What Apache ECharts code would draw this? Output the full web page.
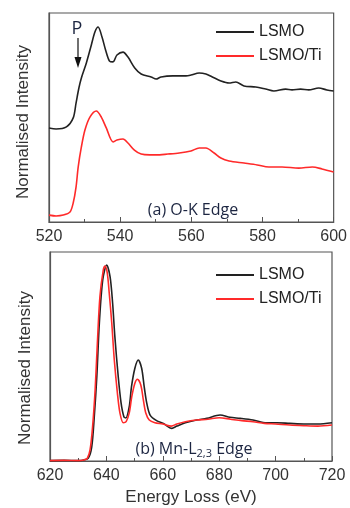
<!DOCTYPE html>
<html>
<head>
<meta charset="utf-8">
<script src="https://cdn.jsdelivr.net/npm/echarts@6/dist/echarts.min.js"></script>
<style>
  html, body { margin: 0; padding: 0; background: #fff; }
  #chart { width: 350px; height: 508px; }
</style>
</head>
<body>
<div id="chart"></div>
<script>
// (a) O-K edge
const okEnergyLsmo = [520, 522, 524.9, 526.8, 527.6, 528.4, 529.1, 530.5, 531.9, 532.9, 533.8, 534.9, 535.9, 537, 538, 539.1, 540.8, 542.2, 544.1, 545.9, 548.7, 550.1, 551.5, 554.8, 558.5, 559.9, 562.2, 564.1, 565.9, 568.3, 570.6, 572.5, 574.8, 578.1, 580.9, 583.2, 586.5, 588.3, 590.7, 593, 595.8, 598.1, 600]
const okLsmo = [45.0, 44.5, 45.5, 49.8, 56.9, 64.1, 68.9, 76.1, 84.7, 90.9, 93.3, 88.5, 82.3, 77.0, 76.6, 79.9, 81.3, 78.9, 73.7, 70.8, 69.4, 68.4, 69.4, 69.9, 69.9, 70.3, 71.3, 70.8, 69.4, 67.5, 66.5, 67.0, 65.1, 64.6, 63.6, 62.7, 63.6, 63.2, 63.6, 63.2, 64.1, 63.2, 62.7]
const okEnergyTi = [520, 522, 524, 525.9, 526.8, 527.6, 528.2, 529.1, 530.1, 531.5, 533.3, 534.7, 536.1, 538, 539.1, 540.8, 542.2, 544, 545.9, 548.3, 550.1, 553.4, 556.6, 559.9, 562.2, 564.1, 566.4, 568.3, 570.6, 574.8, 578.5, 581.8, 585.5, 590.2, 594, 596.7, 600]
const okTi = [3.3, 2.9, 3.3, 4.8, 9.1, 16.7, 26.3, 35.9, 44.0, 50.2, 53.1, 50.2, 45.0, 38.3, 39.2, 39.7, 37.8, 34.4, 32.5, 32.1, 32.1, 32.5, 33.0, 34.0, 35.4, 35.4, 33.0, 30.6, 29.2, 28.2, 27.3, 26.3, 26.3, 25.8, 26.3, 25.4, 23.9]

// (b) Mn-L2,3 edge
const mnEnergyLsmo = [620, 625, 630, 632, 633.6, 634.8, 635.7, 636.6, 637.5, 638.7, 640.1, 641.3, 642.2, 643, 644.2, 645.2, 646.2, 646.9, 648.1, 648.9, 650.1, 651.3, 652.5, 653.4, 654.3, 655.5, 657.8, 660.2, 663.2, 665, 668, 672, 675.6, 680.3, 683.8, 687.4, 692, 696.8, 700.4, 705, 710, 715, 720]
const mnLsmo = [0.2, 0.3, 0.2, 0.5, 1.4, 6.8, 21.2, 40.3, 66.0, 86.6, 93.8, 88.2, 75.6, 59.5, 40.3, 27.8, 21.2, 20.6, 26.0, 35.6, 44.4, 48.3, 44.4, 35.6, 27.8, 22.0, 19.3, 18.0, 15.6, 16.7, 18.3, 19.6, 20.4, 22.0, 20.9, 20.4, 19.6, 18.3, 18.3, 18.0, 17.7, 17.7, 18.3]
const mnEnergyTi = [620, 625, 630, 632, 633.2, 634.2, 635.1, 636, 636.8, 637.7, 638.9, 639.5, 640.3, 641, 641.9, 642.8, 643.9, 644.8, 646, 647, 648.1, 649, 650.1, 651, 652.2, 653.1, 654, 655.2, 657.2, 660, 663, 665, 668, 672, 676, 680, 684, 688, 692, 696, 700, 705, 710, 715, 720]
const mnTi = [0.2, 0.3, 0.2, 0.5, 1.2, 5.3, 16.4, 34.0, 56.5, 78.6, 91.4, 93.3, 90.0, 80.4, 66.0, 48.3, 32.5, 23.0, 18.3, 18.8, 23.0, 30.8, 37.2, 39.1, 36.4, 29.2, 22.8, 19.6, 18.3, 17.7, 16.7, 17.7, 18.8, 19.6, 20.0, 20.7, 20.0, 19.3, 18.8, 18.0, 17.7, 17.2, 16.9, 16.7, 17.2]

const pairs = (xs, ys) => xs.map((x, i) => [x, ys[i]])

const BLACK = '#222'
const RED = '#ff2a2a'
const font = 'Liberation Sans, Arial, sans-serif'
const noteFont = 'Open Sans, Noto Sans, sans-serif'

const xAxisBase = {
    type: 'value',
    interval: 20,
    axisLine: { show: true, lineStyle: { color: '#555', width: 1.2 } },
    axisTick: { show: true, inside: true, length: 5, lineStyle: { color: '#555' } },
    minorTick: { show: true, splitNumber: 2, length: 3, lineStyle: { color: '#555' } },
    splitLine: { show: false },
    axisLabel: { color: '#333', fontSize: 16, fontFamily: font, margin: 7 },
}
const yAxisBase = {
    type: 'value',
    min: 0,
    max: 100,
    axisLine: { show: true, lineStyle: { color: '#555', width: 1.2 } },
    axisTick: { show: false },
    axisLabel: { show: false },
    splitLine: { show: false },
}
const lineBase = { type: 'line', showSymbol: false, smooth: 0.3, lineStyle: { width: 1.6 } }
const legendBase = {
    orient: 'vertical',
    icon: 'rect',
    itemWidth: 38,
    itemHeight: 2,
    itemGap: 8,
    data: ['LSMO', 'LSMO/Ti'],
    textStyle: { color: '#222', fontSize: 16, fontFamily: font, padding: [0, 0, 0, 0] },
}

const chart = echarts.init(document.getElementById('chart'), null, { renderer: 'canvas' })
chart.setOption({
    animation: false,
    backgroundColor: '#fff',
    grid: [
        { left: 49, right: 15, top: 13, height: 209, show: true, borderColor: '#555', borderWidth: 1.2 },
        { left: 50, right: 18, top: 252, height: 209, show: true, borderColor: '#555', borderWidth: 1.2 },
    ],
    xAxis: [
        { ...xAxisBase, gridIndex: 0, min: 520, max: 600 },
        {
            ...xAxisBase, gridIndex: 1, min: 620, max: 720,
            name: 'Energy Loss (eV)', nameLocation: 'middle', nameGap: 28,
            nameTextStyle: { color: '#333', fontSize: 17, fontFamily: font },
        },
    ],
    yAxis: [
        { ...yAxisBase, gridIndex: 0 },
        { ...yAxisBase, gridIndex: 1 },
    ],
    legend: [
        { ...legendBase, left: 211, top: 19 },
        { ...legendBase, left: 211, top: 262 },
    ],
    series: [
        { ...lineBase, name: 'LSMO', xAxisIndex: 0, yAxisIndex: 0, color: BLACK, data: pairs(okEnergyLsmo, okLsmo) },
        { ...lineBase, name: 'LSMO/Ti', xAxisIndex: 0, yAxisIndex: 0, color: RED, data: pairs(okEnergyTi, okTi) },
        { ...lineBase, name: 'LSMO', xAxisIndex: 1, yAxisIndex: 1, color: BLACK, data: pairs(mnEnergyLsmo, mnLsmo) },
        { ...lineBase, name: 'LSMO/Ti', xAxisIndex: 1, yAxisIndex: 1, color: RED, data: pairs(mnEnergyTi, mnTi) },
    ],
    graphic: [
        {
            type: 'text', x: 23, y: 122, rotation: Math.PI / 2,
            style: { text: 'Normalised Intensity', fill: '#333', font: '17px ' + font, align: 'center', verticalAlign: 'middle' },
        },
        {
            type: 'text', x: 25, y: 368, rotation: Math.PI / 2,
            style: { text: 'Normalised Intensity', fill: '#333', font: '17px ' + font, align: 'center', verticalAlign: 'middle' },
        },
        {
            type: 'text', x: 193, y: 210,
            style: { text: '(a) O-K Edge', fill: '#1c2541', font: '16px ' + noteFont, align: 'center', verticalAlign: 'middle' },
        },
        {
            type: 'text', x: 194, y: 449,
            style: {
                text: '{n|(b) Mn-L}{s|2,3}{n| Edge}',
                align: 'center', verticalAlign: 'middle',
                rich: {
                    n: { fill: '#1c2541', fontSize: 16, fontFamily: noteFont },
                    s: { fill: '#1c2541', fontSize: 11, fontFamily: noteFont, padding: [9, 0, 0, 0] },
                },
            },
        },
        {
            type: 'text', x: 77, y: 29,
            style: { text: 'P', fill: '#1c2541', font: '18px ' + noteFont, align: 'center', verticalAlign: 'middle' },
        },
        {
            type: 'line', shape: { x1: 78, y1: 38, x2: 78, y2: 60 },
            style: { stroke: '#111', lineWidth: 1.2 },
        },
        {
            type: 'polygon', shape: { points: [[74.5, 57], [81.5, 57], [78, 68]] },
            style: { fill: '#111' },
        },
    ],
})
</script>
</body>
</html>
